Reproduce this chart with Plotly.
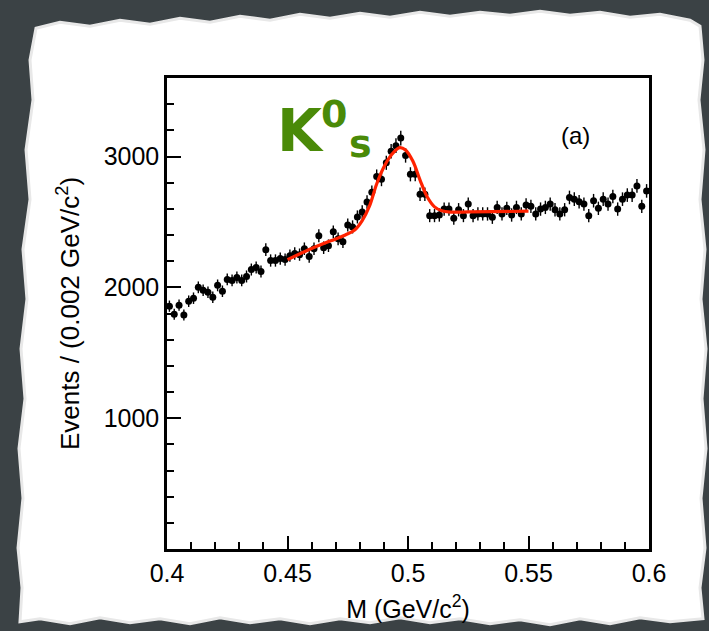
import plotly.graph_objects as go

# ---------------- data ----------------
mass = [round(0.401 + 0.002 * i, 3) for i in range(100)]  # bin centres, 0.002 GeV bins
events = [
    1856, 1795, 1864, 1788, 1894, 1917, 2000, 1977, 1962, 1924,
    2015, 1970, 2060, 2053, 2075, 2053, 2083, 2136, 2151, 2121,
    2288, 2205, 2205, 2220, 2212, 2242, 2258, 2250, 2295, 2235,
    2295, 2394, 2303, 2318, 2424, 2371, 2348, 2477, 2462, 2538,
    2576, 2652, 2727, 2848, 2826, 2952, 3040, 3083, 3141, 3008,
    2864, 2864, 2712, 2712, 2548, 2548, 2553, 2598, 2598, 2528,
    2593, 2548, 2636, 2548, 2561, 2561, 2561, 2535, 2611, 2561,
    2604, 2553, 2611, 2561, 2629, 2619, 2561, 2598, 2611, 2636,
    2593, 2561, 2593, 2687, 2674, 2654, 2636, 2548, 2662, 2604,
    2674, 2636, 2694, 2598, 2674, 2705, 2705, 2775, 2619, 2737,
]
errors = [round(v ** 0.5) for v in events]

fit_mass = [0.450, 0.455, 0.460, 0.465, 0.470, 0.474, 0.478, 0.481, 0.484,
            0.487, 0.490, 0.493, 0.4965, 0.499, 0.502, 0.505, 0.508, 0.511,
            0.514, 0.518, 0.525, 0.535, 0.550]
fit_events = [2212, 2255, 2297, 2335, 2370, 2400, 2440, 2510, 2620,
              2790, 2920, 3010, 3068, 3050, 2965, 2820, 2690, 2615,
              2585, 2575, 2576, 2578, 2582]

x_tickvals = [0.4, 0.45, 0.5, 0.55, 0.6]
x_ticktext = ["0.4", "0.45", "0.5", "0.55", "0.6"]
y_tickvals = [1000, 2000, 3000]
y_ticktext = ["1000", "2000", "3000"]

# ---------------- layout geometry (pixels) ----------------
W, H = 709, 631
L, R, T, B = 167, 60, 78, 80
PW, PH = W - L - R, H - T - B


def px(x):
    return (x - L) / PW


def py(y):
    return (H - B - y) / PH


FONT = "Liberation Sans, Arial, Helvetica, sans-serif"
LFONT = "DejaVu Sans"

fig = go.Figure()

fig.add_trace(go.Scatter(
    x=mass, y=events, mode="markers",
    marker=dict(color="black", size=7),
    error_y=dict(type="data", array=errors, color="black", thickness=1.4, width=0),
    error_x=dict(type="constant", value=0.001, color="black", thickness=1.4, width=0),
    showlegend=False, hoverinfo="skip",
))

fig.add_trace(go.Scatter(
    x=fit_mass, y=fit_events, mode="lines",
    line=dict(color="#ff2200", width=3.2, shape="spline", smoothing=1.0),
    showlegend=False, hoverinfo="skip",
))

# torn-paper outline (pixel coordinates)
outline = [
    (36, 28), (60, 22), (90, 26), (120, 20), (150, 24), (180, 18), (210, 22),
    (240, 16), (270, 20), (300, 14), (330, 18), (360, 13), (390, 17), (420, 12),
    (450, 16), (480, 12), (510, 15), (540, 11), (570, 15), (600, 12), (630, 17),
    (660, 14), (690, 20), (700, 26),
    (703, 60), (699, 100), (704, 150), (700, 200), (705, 250), (701, 300),
    (706, 350), (702, 400), (706, 450), (701, 500), (705, 550), (700, 590), (703, 621),
    (670, 624), (640, 620), (610, 626), (580, 621), (550, 627), (520, 622),
    (490, 626), (460, 621), (430, 625), (400, 620), (370, 625), (340, 621),
    (310, 626), (280, 621), (250, 625), (220, 620), (190, 626), (160, 621),
    (130, 625), (100, 620), (70, 626), (40, 621), (20, 624),
    (22, 590), (18, 550), (23, 500), (19, 450), (25, 400), (21, 350), (27, 300),
    (23, 250), (30, 200), (26, 150), (33, 100), (30, 60),
]
path = "M " + " L ".join(f"{px(a):.4f},{py(b):.4f}" for a, b in outline) + " Z"

fig.add_shape(type="path", path=path, xref="paper", yref="paper",
              fillcolor="white", line=dict(color="#e8e8e8", width=3), layer="below")

# labels
green = "#4a8a08"
fig.add_annotation(x=px(300), y=py(131), xref="paper", yref="paper", text="<b>K</b>",
                   showarrow=False, font=dict(family=LFONT, size=58, color=green),
                   xanchor="center", yanchor="middle")
fig.add_annotation(x=px(334), y=py(114), xref="paper", yref="paper", text="<b>0</b>",
                   showarrow=False, font=dict(family=LFONT, size=38, color=green),
                   xanchor="center", yanchor="middle")
fig.add_annotation(x=px(360), y=py(144), xref="paper", yref="paper", text="<b>s</b>",
                   showarrow=False, font=dict(family=LFONT, size=38, color=green),
                   xanchor="center", yanchor="middle")
fig.add_annotation(x=px(575), y=py(136), xref="paper", yref="paper", text="(a)",
                   showarrow=False, font=dict(family=FONT, size=24, color="black"),
                   xanchor="center", yanchor="middle")

fig.update_layout(
    width=W, height=H,
    margin=dict(l=L, r=R, t=T, b=B, pad=0),
    paper_bgcolor="#3b4245", plot_bgcolor="white",
    font=dict(family=FONT, size=25, color="black"),
    xaxis=dict(
        range=[0.4, 0.6], tickmode="array", tickvals=x_tickvals, ticktext=x_ticktext,
        ticks="inside", ticklen=13, tickwidth=1.5, tickcolor="black",
        minor=dict(tickmode="linear", tick0=0.4, dtick=0.01, ticks="inside",
                   ticklen=7, tickwidth=1.5, tickcolor="black"),
        showline=True, linecolor="black", linewidth=2.5, mirror=True,
        showgrid=False, zeroline=False,
        title=dict(text="M (GeV/c<sup>2</sup>)", font=dict(family=FONT, size=25), standoff=15),
        tickfont=dict(family=FONT, size=25),
    ),
    yaxis=dict(
        range=[0, 3600], tickmode="array", tickvals=y_tickvals, ticktext=y_ticktext,
        ticks="inside", ticklen=14, tickwidth=1.5, tickcolor="black",
        minor=dict(tickmode="linear", tick0=0, dtick=200, ticks="inside",
                   ticklen=7, tickwidth=1.5, tickcolor="black"),
        showline=True, linecolor="black", linewidth=2.5, mirror=True,
        showgrid=False, zeroline=False,
        title=dict(text="Events / (0.002 GeV/c<sup>2</sup>)", font=dict(family=FONT, size=26), standoff=17),
        tickfont=dict(family=FONT, size=25),
    ),
)

fig.write_html("out.html")
